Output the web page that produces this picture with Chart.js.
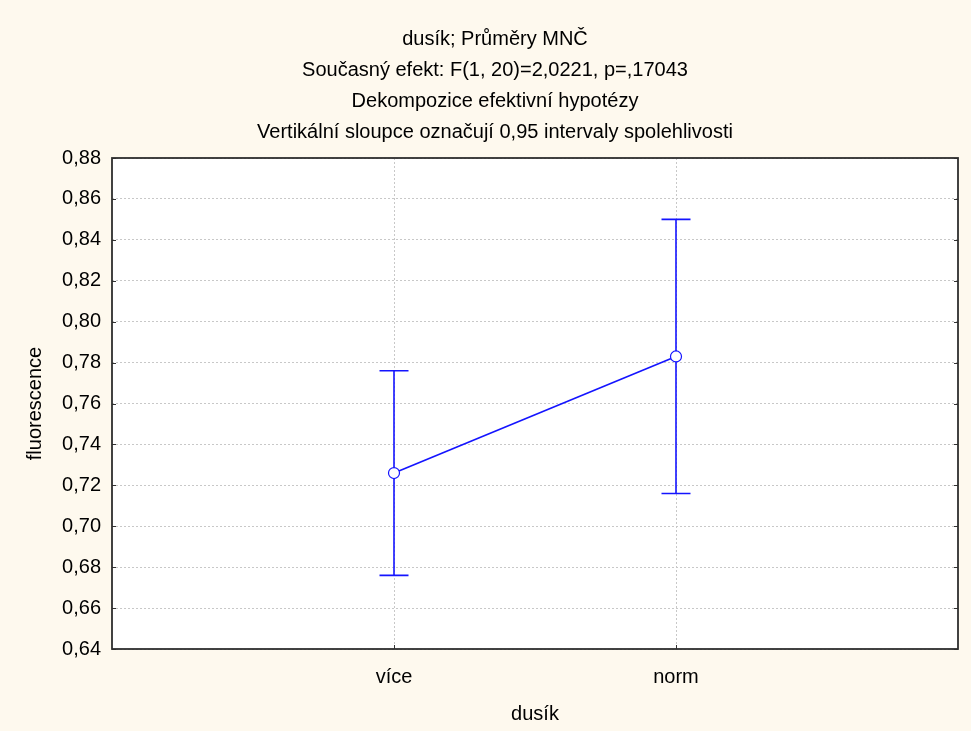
<!DOCTYPE html>
<html><head><meta charset="utf-8">
<script src="https://cdn.jsdelivr.net/npm/chart.js@4.4.1/dist/chart.umd.min.js"></script>
<style>html,body{margin:0;padding:0;background:#FEF9EE}#wrap{width:971px;height:731px}</style>
</head><body><div id="wrap"><canvas id="c" width="971" height="731"></canvas></div>
<script>
const titleLines = [
  'dusík; Průměry MNČ',
  'Současný efekt: F(1, 20)=2,0221, p=,17043',
  'Dekompozice efektivní hypotézy',
  'Vertikální sloupce označují 0,95 intervaly spolehlivosti'
];
const categories = ['více', 'norm'];
const means = [0.726, 0.783];
const lowerCI = [0.676, 0.716];
const upperCI = [0.776, 0.850];
const yMin = 0.64, yMax = 0.88, yStep = 0.02;
const xAxisTitle = 'dusík';
const yAxisTitle = 'fluorescence';

const BLUE = '#1414ff';
const FONT = '"Liberation Sans", Arial, sans-serif';

const bgPlugin = {
  id: 'bg',
  beforeDraw(chart) {
    const {ctx, chartArea: a} = chart;
    ctx.save();
    ctx.fillStyle = '#FEF9EE';
    ctx.fillRect(0, 0, chart.width, chart.height);
    ctx.fillStyle = '#ffffff';
    ctx.fillRect(a.left, a.top, a.right - a.left, a.bottom - a.top);
    ctx.restore();
  },
  afterLayout(chart) {
    if (chart.titleBlock) { chart.titleBlock.left += 16; chart.titleBlock.right += 16; }
  }
};

const errorBarPlugin = {
  id: 'errbars',
  beforeDatasetsDraw(chart) {
    const {ctx, scales: {x, y}} = chart;
    ctx.save();
    ctx.strokeStyle = BLUE;
    ctx.lineWidth = 1.6;
    categories.forEach((c, i) => {
      const px = x.getPixelForValue(i + 1);
      const pl = y.getPixelForValue(lowerCI[i]);
      const pu = y.getPixelForValue(upperCI[i]);
      ctx.beginPath();
      ctx.moveTo(px, pl); ctx.lineTo(px, pu);
      ctx.moveTo(px - 14.5, pl); ctx.lineTo(px + 14.5, pl);
      ctx.moveTo(px - 14.5, pu); ctx.lineTo(px + 14.5, pu);
      ctx.stroke();
    });
    ctx.restore();
  }
};

const framePlugin = {
  id: 'frame',
  afterDraw(chart) {
    const {ctx, chartArea: a, scales: {x, y}} = chart;
    ctx.save();
    ctx.strokeStyle = '#333333';
    ctx.lineWidth = 1;
    ctx.beginPath();
    y.ticks.forEach(t => {
      const py = Math.round(y.getPixelForValue(t.value)) + 0.5;
      ctx.moveTo(a.left, py); ctx.lineTo(a.left + 4, py);
      ctx.moveTo(a.right, py); ctx.lineTo(a.right - 4, py);
    });
    x.ticks.forEach(t => {
      const px = Math.round(x.getPixelForValue(t.value)) + 0.5;
      ctx.moveTo(px, a.bottom); ctx.lineTo(px, a.bottom - 4);
    });
    ctx.stroke();
    ctx.lineWidth = 1.8;
    ctx.strokeStyle = '#2e2e2e';
    ctx.strokeRect(a.left, a.top, a.right - a.left, a.bottom - a.top);
    ctx.restore();
  }
};

new Chart(document.getElementById('c'), {
  type: 'line',
  data: {
    datasets: [{
      data: means.map((m, i) => ({x: i + 1, y: m})),
      borderColor: BLUE,
      borderWidth: 1.6,
      pointRadius: 5.5,
      pointBackgroundColor: '#ffffff',
      pointBorderColor: BLUE,
      pointBorderWidth: 1.2,
      tension: 0,
      fill: false
    }]
  },
  options: {
    responsive: false,
    devicePixelRatio: 1,
    animation: false,
    events: [],
    layout: {padding: {left: 0, right: 13, top: 0, bottom: 3}},
    plugins: {
      legend: {display: false},
      tooltip: {enabled: false},
      title: {
        display: true,
        text: titleLines,
        color: '#000000',
        font: {family: FONT, size: 20, weight: 'normal', lineHeight: 31 / 20},
        padding: {top: 24, bottom: 10}
      }
    },
    scales: {
      x: {
        type: 'linear',
        min: 0,
        max: categories.length + 1,
        afterBuildTicks(s) {
          s.ticks = categories.map((c, i) => ({value: i + 1}));
        },
        afterFit(s) { s.height = 79; },
        ticks: {
          color: '#000000',
          font: {family: FONT, size: 20},
          padding: 16,
          maxRotation: 0,
          autoSkip: false,
          callback: v => categories[v - 1] ?? ''
        },
        grid: {
          drawTicks: false,
          color: '#c8c8c8',
          lineWidth: 1
        },
        border: {display: false, dash: [2, 2]},
        title: {
          display: true,
          text: xAxisTitle,
          color: '#000000',
          font: {family: FONT, size: 20},
          padding: {top: 10, bottom: 2}
        }
      },
      y: {
        type: 'linear',
        min: yMin,
        max: yMax,
        afterFit(s) { s.width = 112; },
        ticks: {
          stepSize: yStep,
          color: '#000000',
          font: {family: FONT, size: 20},
          padding: 11,
          callback: v => v.toFixed(2).replace('.', ',')
        },
        grid: {
          drawTicks: false,
          color: '#c8c8c8',
          lineWidth: 1
        },
        border: {display: false, dash: [2, 2]},
        title: {
          display: true,
          text: yAxisTitle,
          color: '#000000',
          font: {family: FONT, size: 20},
          padding: {top: 23, bottom: 4}
        }
      }
    }
  },
  plugins: [bgPlugin, errorBarPlugin, framePlugin]
});
</script>
</body></html>
